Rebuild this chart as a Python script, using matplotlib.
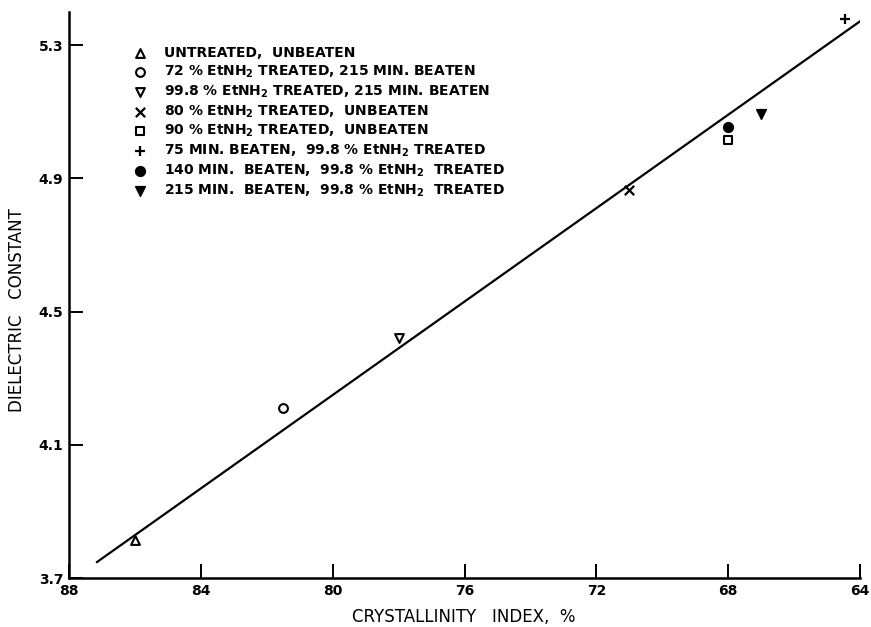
import matplotlib
matplotlib.use("Agg")
from matplotlib import pyplot as plt

# crystallinity index (%) vs dielectric constant
labels = [
    "UNTREATED,  UNBEATEN",
    "72 % EtNH$_\\mathbf{2}$ TREATED, 215 MIN. BEATEN",
    "99.8 % EtNH$_\\mathbf{2}$ TREATED, 215 MIN. BEATEN",
    "80 % EtNH$_\\mathbf{2}$ TREATED,  UNBEATEN",
    "90 % EtNH$_\\mathbf{2}$ TREATED,  UNBEATEN",
    "75 MIN. BEATEN,  99.8 % EtNH$_\\mathbf{2}$ TREATED",
    "140 MIN.  BEATEN,  99.8 % EtNH$_\\mathbf{2}$  TREATED",
    "215 MIN.  BEATEN,  99.8 % EtNH$_\\mathbf{2}$  TREATED",
]
cryst = [86.0, 81.5, 78.0, 71.0, 68.0, 64.45, 68.0, 67.0]
dielec = [3.815, 4.21, 4.42, 4.865, 5.015, 5.378, 5.056, 5.095]
markers = ["^", "o", "v", "x", "s", "+", "o", "v"]
filled = [False, False, False, True, False, True, True, True]

fit_x = [87.15, 64.0]
fit_y = [3.748, 5.372]

xticks = [88, 84, 80, 76, 72, 68, 64]
yticks = [3.7, 4.1, 4.5, 4.9, 5.3]

plt.rcParams["font.family"] = ["DejaVu Sans"]
plt.rcParams["mathtext.fontset"] = "dejavusans"

fig = plt.figure(figsize=(8.71, 6.27), dpi=100)
ax = fig.add_axes([69 / 871, 49 / 627, 791 / 871, 566 / 627])

ax.plot(fit_x, fit_y, color="black", lw=1.6, zorder=2)

for x, y, m, f, lab in zip(cryst, dielec, markers, filled, labels):
    if m in ("x", "+"):
        ax.scatter([x], [y], marker=m, s=45, color="black", linewidths=1.6,
                   label=lab, zorder=3)
    elif f:
        ax.scatter([x], [y], marker=m, s=50, color="black", label=lab, zorder=3)
    else:
        ax.scatter([x], [y], marker=m, s=40, facecolors="white",
                   edgecolors="black", linewidths=1.5, label=lab, zorder=3)

ax.set_xlim(88, 64)
ax.set_ylim(3.7, 5.4)
ax.set_xticks(xticks)
ax.set_xticklabels([str(t) for t in xticks])
ax.set_yticks(yticks)
ax.set_yticklabels([str(t) for t in yticks])

for s in ("top", "right"):
    ax.spines[s].set_visible(False)
for s in ("left", "bottom"):
    ax.spines[s].set_linewidth(1.8)

ax.tick_params(direction="in", length=10, width=1.4, labelsize=10, pad=4)
for t in ax.get_xticklabels() + ax.get_yticklabels():
    t.set_fontweight("bold")

fig.text(17 / 871, 1 - 310 / 627, "DIELECTRIC   CONSTANT", rotation=90,
         ha="center", va="center", fontsize=12)
fig.text(464 / 871, 1 - 617 / 627, "CRYSTALLINITY   INDEX,  %",
         ha="center", va="center", fontsize=12)

leg = ax.legend(loc="upper left", bbox_to_anchor=(133 / 871, 1 - 46 / 627),
                bbox_transform=fig.transFigure, frameon=False, handlelength=1.0,
                handletextpad=1.2, labelspacing=0.25, borderpad=0,
                borderaxespad=0, scatterpoints=1,
                prop={"size": 10, "weight": "bold"})

fig.savefig("out.png", dpi=100)
